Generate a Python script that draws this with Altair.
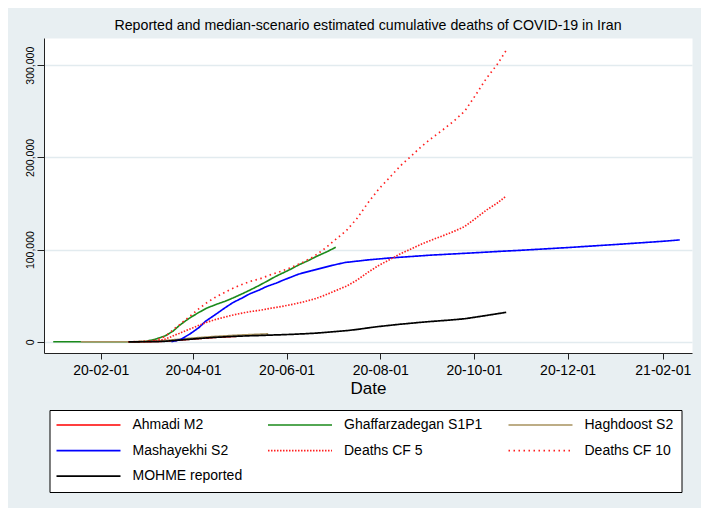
import altair as alt
import pandas as pd

# ---------------- data ----------------
series_order = ["Ahmadi M2", "Ghaffarzadegan S1P1", "Haghdoost S2",
                "Mashayekhi S2", "Deaths CF 5", "Deaths CF 10", "MOHME reported"]
series_colors = ["#ff0000", "#1b8a1b", "#a8925f", "#0000ff", "#ff2020", "#ff2020", "#000000"]
series_dash = [[1, 0], [1, 0], [1, 0], [1, 0], [1.5, 1.5], [1.5, 3.5], [1, 0]]
series_width = [1.6, 1.7, 1.7, 1.7, 1.4, 1.4, 3.2]

ahmadi_dates = ["2020-02-19", "2020-03-01", "2020-03-14", "2020-04-01", "2020-04-15", "2020-05-01"]
ahmadi_vals = [2, 54, 611, 3036, 4777, 6091]

ghaff_dates = ["2020-01-01", "2020-01-20", "2020-02-10", "2020-02-24", "2020-03-01", "2020-03-07",
               "2020-03-14", "2020-03-19", "2020-03-23", "2020-03-27", "2020-03-31", "2020-04-05",
               "2020-04-10", "2020-04-16", "2020-04-22", "2020-04-27", "2020-05-03", "2020-05-08",
               "2020-05-14", "2020-05-19", "2020-05-25", "2020-05-30", "2020-06-04", "2020-06-09",
               "2020-06-15", "2020-06-21", "2020-06-27", "2020-07-03"]
ghaff_vals = [0, 0, 0, 0, 500, 2500, 6500, 11500, 17500, 22500, 27000, 32000, 36500, 40500,
              44000, 47500, 52000, 56000, 61000, 65500, 71000, 75000, 79000, 83500, 88000,
              93000, 97500, 102500]

hagh_dates = ["2020-01-19", "2020-02-19", "2020-03-01", "2020-03-10", "2020-03-20", "2020-04-01",
              "2020-04-15", "2020-05-01", "2020-05-20"]
hagh_vals = [0, 0, 300, 1000, 2300, 4100, 5800, 7300, 8600]

mash_dates = ["2020-03-18", "2020-03-24", "2020-03-30", "2020-04-05", "2020-04-09", "2020-04-16",
              "2020-04-22", "2020-04-27", "2020-05-03", "2020-05-08", "2020-05-14", "2020-05-19",
              "2020-05-25", "2020-05-30", "2020-06-09", "2020-06-17", "2020-07-01", "2020-07-09",
              "2020-07-25", "2020-08-08", "2020-09-03", "2020-10-01", "2020-10-17", "2020-11-01",
              "2020-12-01", "2021-01-01", "2021-02-01", "2021-02-12"]
mash_vals = [0, 2500, 8500, 15500, 22000, 30000, 37000, 42500, 47500, 52000, 56000, 60000,
             63500, 67000, 73500, 77000, 83000, 86000, 89000, 91000, 94000, 96500, 98000,
             99300, 102200, 105500, 109000, 110500]

mohme_dates = ["2020-02-19", "2020-02-26", "2020-03-01", "2020-03-05", "2020-03-08", "2020-03-11",
               "2020-03-14", "2020-03-17", "2020-03-20", "2020-03-23", "2020-03-26", "2020-03-29",
               "2020-04-01", "2020-04-05", "2020-04-10", "2020-04-15", "2020-04-20", "2020-04-25",
               "2020-05-01", "2020-05-08", "2020-05-15", "2020-05-22", "2020-05-29", "2020-06-05",
               "2020-06-12", "2020-06-19", "2020-06-26", "2020-07-03", "2020-07-10", "2020-07-17",
               "2020-07-24", "2020-07-31", "2020-08-07", "2020-08-14", "2020-08-21", "2020-08-28",
               "2020-09-04", "2020-09-11", "2020-09-18", "2020-09-25", "2020-10-02", "2020-10-09",
               "2020-10-16", "2020-10-22"]
mohme_vals = [2, 19, 54, 107, 194, 354, 611, 988, 1433, 1812, 2234, 2640, 3036, 3603, 4232,
              4777, 5209, 5650, 6091, 6541, 6854, 7300, 7677, 8134, 8659, 9272, 10130, 11106,
              12084, 13410, 15074, 16569, 17802, 19072, 20125, 21216, 22154, 23029, 23952,
              25015, 26746, 28544, 30375, 31985]

cf5_vals = [10, 95, 270, 535, 970, 1770, 3055, 4940, 7165, 9060, 11170, 13200, 15180, 18015,
            21160, 23885, 26045, 28250, 30455, 32705, 34270, 36500, 38385, 40670, 43295, 46360,
            50650, 55530, 60420, 67050, 75370, 82845, 89010, 95360, 100625, 106080, 110770,
            115145, 119760, 125075, 133730, 142720, 150300, 158000]
cf10_vals = [20, 190, 540, 1070, 1940, 3540, 6110, 9880, 14330, 18120, 22340, 26400, 30360,
             36030, 42320, 47770, 52090, 56500, 60910, 65410, 68540, 73000, 76770, 81340, 86590,
             92720, 101300, 111060, 120840, 134100, 150740, 165690, 178020, 190720, 201250,
             212160, 221540, 230290, 239520, 250150, 267460, 285440, 300500, 316000]

y_ticks = [0, 100000, 200000, 300000]
x_tick_dates = [(2020, 2), (2020, 4), (2020, 6), (2020, 8), (2020, 10), (2020, 12), (2021, 2)]

# ---------------- table ----------------
parts = [
    ("Ahmadi M2", ahmadi_dates, ahmadi_vals),
    ("Ghaffarzadegan S1P1", ghaff_dates, ghaff_vals),
    ("Haghdoost S2", hagh_dates, hagh_vals),
    ("Mashayekhi S2", mash_dates, mash_vals),
    ("Deaths CF 5", mohme_dates, cf5_vals),
    ("Deaths CF 10", mohme_dates, cf10_vals),
    ("MOHME reported", mohme_dates, mohme_vals),
]
rows = []
for name, dates, vals in parts:
    for d, v in zip(dates, vals):
        rows.append({"series": name, "date": d, "deaths": v})
df = pd.DataFrame(rows)

FONT = "Liberation Sans"

# legend symbol: a horizontal line path; size 144 -> scale 6, half-length 5.333*6 = 32px
legend = alt.Legend(
    title=None, orient="none", legendX=5.5, legendY=372, columns=3, direction="horizontal",
    symbolType="M-5.333,0L5.333,0", symbolSize=144, symbolOffset=24,
    labelFontSize=14, labelFont=FONT, labelColor="black", labelOffset=37,
    rowPadding=11.6, columnPadding=21.5, padding=8, strokeColor="black", fillColor="white",
    labelLimit=300, gridAlign="each",
)

x_axis = alt.Axis(
    values=[alt.DateTime(year=y, month=m, date=1, utc=True) for y, m in x_tick_dates],
    format="%y-%m-%d", title="Date", titleFontSize=17, titleFont=FONT,
    titleFontWeight="normal", titleColor="black", titlePadding=3.5,
    labelFontSize=14, labelFont=FONT, labelColor="black", labelPadding=4,
    tickSize=6, tickColor="#222222", domainColor="#222222", grid=False,
    labelFlush=False, labelOverlap=False,
)
y_axis = alt.Axis(
    values=y_ticks, format=",.0f", title=None, labelAngle=270, labelAlign="center",
    labelBaseline="bottom", labelFontSize=10.5, labelFont=FONT, labelColor="black",
    labelPadding=1.5, tickSize=7, tickColor="#222222", domainColor="#222222",
    grid=True, gridColor="#e2ebef", gridWidth=1.5,
)

chart = alt.Chart(df).mark_line(strokeCap="butt", strokeJoin="round").encode(
    x=alt.X("date:T", axis=x_axis,
            scale=alt.Scale(type="utc", domain=[
                alt.DateTime(year=2019, month=12, date=26, utc=True),
                alt.DateTime(year=2021, month=2, date=20, utc=True)])),
    y=alt.Y("deaths:Q", axis=y_axis,
            scale=alt.Scale(domain=[-12150, 329500], nice=False, zero=False)),
    color=alt.Color("series:N", sort=series_order,
                    scale=alt.Scale(domain=series_order, range=series_colors), legend=legend),
    strokeDash=alt.StrokeDash("series:N", sort=series_order,
                              scale=alt.Scale(domain=series_order, range=series_dash), legend=legend),
    strokeWidth=alt.StrokeWidth("series:N", sort=series_order,
                                scale=alt.Scale(domain=series_order, range=series_width), legend=legend),
    order=alt.Order("date:T"),
).properties(
    width=648, height=315,
    title=alt.TitleParams(
        "Reported and median-scenario estimated cumulative deaths of COVID-19 in Iran",
        fontSize=14.2, font=FONT, fontWeight="normal", color="black", anchor="middle", offset=5,
    ),
    autosize=alt.AutoSizeParams(type="none"),
    padding={"left": 36, "top": 30, "right": 9, "bottom": 155},
).configure(
    background="#e8eff2",
).configure_view(
    fill="white", stroke="transparent",
)

chart.save("out.html", embed_options={"renderer": "svg", "actions": False})
